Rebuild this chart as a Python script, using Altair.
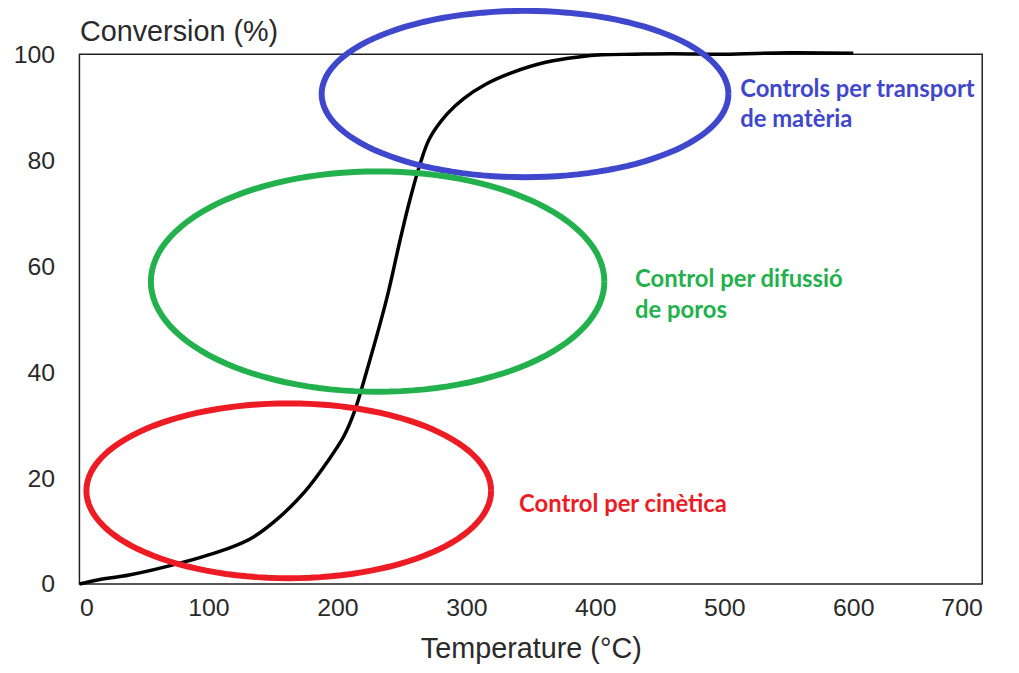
import altair as alt
import numpy as np
import pandas as pd

# Curve
temperature = [0, 15, 38.5, 77, 115, 133, 154, 174.6, 192, 205, 213, 223, 238.5, 248.5,
               256, 264, 271.5, 284.6, 297.7, 315.4, 336, 361.5, 387, 405, 430, 460,
               500, 550, 600]
conversion = [0, 0.8, 1.7, 3.9, 6.7, 8.6, 12.4, 17.4, 23.0, 27.9, 32.4, 40.4, 54.1, 64.8,
              72.3, 79.2, 84.1, 88.6, 91.6, 94.4, 96.6, 98.5, 99.5, 99.9, 100, 100.1,
              100, 100.3, 100.2]

# Highlight ellipses (centre and radii in data units)
regions = ["transport", "difussio", "cinetica"]
ell_cx = [345.5, 231.2, 162.3]
ell_cy = [92.5, 57.1, 17.6]
ell_rx = [157.7, 175.8, 156.9]
ell_ry = [15.7, 20.8, 16.5]
region_colors = ["#3f48cc", "#22b14c", "#ed1c24"]

# Annotation lines
note_text = ["Controls per transport", "de matèria", "Control per difussió", "de poros",
             "Control per cinètica"]
note_region = ["transport", "transport", "difussio", "difussio", "cinetica"]
note_x = [512.3, 512.3, 430.8, 430.8, 340.8]
note_y = [93.3, 87.6, 57.3, 51.5, 15.0]

x_ticks = [0, 100, 200, 300, 400, 500, 600, 700]
y_ticks = [0, 20, 40, 60, 80, 100]

curve_df = pd.DataFrame({"T": temperature, "C": conversion})

rows = []
angles = np.linspace(0, 2 * np.pi, 121)
for r, cx, cy, rx, ry in zip(regions, ell_cx, ell_cy, ell_rx, ell_ry):
    for i, a in enumerate(angles):
        rows.append({"region": r, "i": i, "T": cx + rx * np.cos(a), "C": cy + ry * np.sin(a)})
ell_df = pd.DataFrame(rows)

note_df = pd.DataFrame({"text": note_text, "region": note_region, "T": note_x, "C": note_y})

color_scale = alt.Scale(domain=regions, range=region_colors)
xs = alt.Scale(domain=[0, 700], nice=False, zero=False)
ys = alt.Scale(domain=[0, 100], nice=False, zero=False)

font = "Liberation Sans"

x_axis = alt.Axis(values=x_ticks, title="Temperature (°C)", grid=False, domain=False,
                  ticks=False, labelFont=font, labelFontSize=25, labelColor="#2a2a2a",
                  labelPadding=12, titleFont=font, titleFontSize=29, titleFontWeight="normal",
                  titleColor="#2a2a2a", titlePadding=14)
y_axis = alt.Axis(values=y_ticks, title="Conversion (%)", grid=False, domain=False,
                  ticks=False, labelFont=font, labelFontSize=25, labelColor="#2a2a2a",
                  labelPadding=25, titleFont=font, titleFontSize=29, titleFontWeight="normal",
                  titleColor="#2a2a2a", titleAngle=0, titleAlign="left",
                  titleBaseline="alphabetic", titleX=0, titleY=-14)

curve = alt.Chart(curve_df).mark_line(color="black", strokeWidth=3.5,
                                      interpolate="catmull-rom", clip=False).encode(
    x=alt.X("T:Q", scale=xs, axis=x_axis),
    y=alt.Y("C:Q", scale=ys, axis=y_axis),
)

ellipses = alt.Chart(ell_df).mark_line(strokeWidth=6, clip=False).encode(
    x=alt.X("T:Q", scale=xs),
    y=alt.Y("C:Q", scale=ys),
    color=alt.Color("region:N", scale=color_scale, legend=None),
    detail="region:N",
    order="i:Q",
)

notes = alt.Chart(note_df).mark_text(align="left", baseline="middle", font="Lato",
                                     fontWeight="bold", fontSize=24, clip=False).encode(
    x=alt.X("T:Q", scale=xs),
    y=alt.Y("C:Q", scale=ys),
    text="text:N",
    color=alt.Color("region:N", scale=color_scale, legend=None),
)

chart = alt.layer(curve, ellipses, notes).properties(
    width=910, height=534,
    autosize=alt.AutoSizeParams(type="none"),
    padding={"left": 72, "top": 44, "right": 29, "bottom": 87},
    background="white",
).configure_view(stroke="#222", strokeWidth=1.5)

chart.save("out.html", embed_options={"renderer": "svg", "actions": False})
